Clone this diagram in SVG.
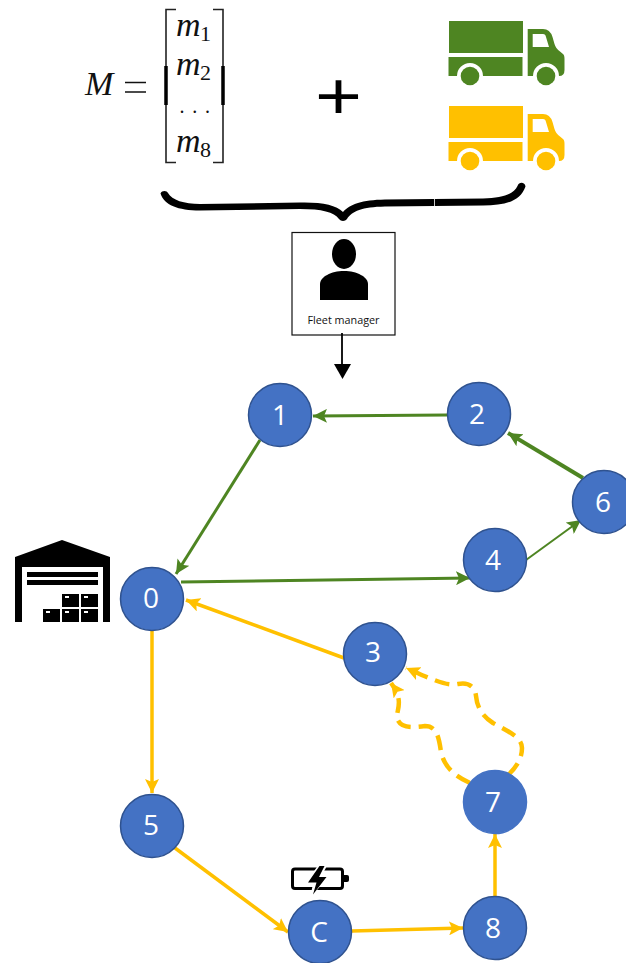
<svg xmlns="http://www.w3.org/2000/svg" width="626" height="963" viewBox="0 0 626 963">
<style>
.math{font-family:"Liberation Serif",serif;font-style:italic;font-size:34px;fill:#111}
.sub{font-family:"Liberation Serif",serif;font-size:22px;fill:#111}
.node circle{fill:#4472C4;stroke:#2F528F;stroke-width:1.500}
.node text{font-family:"Open Sans",sans-serif;font-size:28px;fill:#fff;text-anchor:middle}
.g{stroke:#4E8522;fill:none;stroke-width:3;marker-end:url(#ag)}
.y{stroke:#FFC000;fill:none;stroke-width:3.500;marker-end:url(#ay)}
.d{stroke:#FFC000;fill:none;stroke-width:4.500;stroke-dasharray:15 8;marker-end:url(#ay)}
</style>
<defs>
<marker id="ag" markerUnits="userSpaceOnUse" markerWidth="15" markerHeight="14" refX="14" refY="7" orient="auto"><path d="M0 0L14 7L0 14L3 7Z" fill="#4E8522"/></marker>
<marker id="ay" markerUnits="userSpaceOnUse" markerWidth="15" markerHeight="14" refX="14" refY="7" orient="auto"><path d="M0 0L14 7L0 14L3 7Z" fill="#FFC000"/></marker>
<g id="truck">
<path d="M449 21H523V53H449ZM448.500 57H522.500V76H483A13 13 0 0 0 457 76H448.500Z"/>
<path fill-rule="evenodd" d="M527.700 29H543Q550 29 552.500 37L554.500 44Q556 49 560 51.500L563 54Q564.500 55 564.500 59V70Q564.500 76 559 76A13 13 0 0 0 533 76H527.700ZM532.700 34V47H549L546 37Q545.500 34 543 34Z"/>
<circle cx="470" cy="76" r="9.300"/><circle cx="546" cy="76" r="9.300"/>
</g>
</defs>
<rect width="626" height="963" fill="#fff"/>

<g id="formula">
<text class="math" x="85" y="95">M</text>
<path d="M125 82.500H146M125 92H146" stroke="#111" stroke-width="1.300"/>
<path d="M176 9.500H166V162.500H176M213 9.500H223V162.500H213" fill="none" stroke="#222" stroke-width="1.600"/>
<path d="M166 66V105M223 66V105" stroke="#000" stroke-width="3.500"/>
<text class="math" x="176" y="36">m</text><text class="sub" x="200" y="41">1</text>
<text class="math" x="176" y="75">m</text><text class="sub" x="200" y="80">2</text>
<text class="math" x="176" y="152">m</text><text class="sub" x="200" y="157">8</text>
<text x="179.500" y="113" font-family="Liberation Serif,serif" font-size="20" fill="#111" letter-spacing="7.700">...</text>
<text x="315" y="119" font-family="Liberation Sans,sans-serif" font-size="66" fill="#000" textLength="47" lengthAdjust="spacingAndGlyphs">+</text>
</g>

<g id="truck-green" fill="#4E8522"><use href="#truck"/></g>
<g id="truck-yellow" fill="#FFC000" transform="translate(0 85)"><use href="#truck"/></g>

<g id="brace">
<path d="M160.500 193.500C162 190 167 190.500 168 193C172 200 184 204 200 204L300 202.500C322 202 336 205 343 212C350 204 362 200 385 199.500L483 198.500C503 198 514 194 517.500 186C519 181.500 525 182 525.500 186.500C520 202 505 205 483 205.500L385 206.500C362 207 352 211 347 219C345 221.500 341 221.500 339 219C334 212 322 209 300 209L200 210.500C178 210.500 164 205 160.500 193.500Z"/>
<path d="M434.500 197V207" stroke="#fff" stroke-width="0.800"/>
</g>

<g id="fleet-manager">
<rect x="292" y="232.500" width="103" height="102.500" fill="#fff" stroke="#111" stroke-width="1.200"/>
<ellipse cx="344" cy="254" rx="12" ry="15"/>
<path d="M320 300V284C320 277 331 271 344 271C357 271 368 277 368 284V300Z"/>
<text x="343.500" y="324" font-family="Open Sans,sans-serif" font-size="11" fill="#111" text-anchor="middle" textLength="72" lengthAdjust="spacingAndGlyphs">Fleet manager</text>
</g>

<g id="warehouse">
<path d="M15 622V557L62 540L110 557V622H103V567H22V622Z"/>
<path d="M27 572H98V577H27ZM27 580H98V585H27ZM62 594H79V607H62ZM81 594H98V607H81ZM43 609H60V622H43ZM62 609H79V622H62ZM81 609H98V622H81Z"/>
<path d="M65 596H69V598H65ZM84 596H88V598H84ZM46 611H50V613H46ZM65 611H69V613H65ZM84 611H88V613H84Z" fill="#fff"/>
</g>

<g id="battery">
<rect x="292.500" y="869" width="50" height="19.500" rx="2.500" fill="#fff" stroke="#000" stroke-width="3"/>
<path d="M344 875H347Q349 875 349 877V880Q349 882 347 882H344Z"/>
<path d="M319 864L305 884H313L310 898L330 875H322L328 864Z" fill="#fff"/>
<path d="M319.500 866L308 882.500H316.500L313 894.500L326.500 877H319L324.500 866Z"/>
</g>

<g id="connectors">
<path class="g" d="M447 415L313 416"/>
<path class="g" d="M260 440L176 574"/>
<path class="g" d="M181 582L470 578"/>
<path class="g" style="stroke-width:2" d="M526 560L581 520"/>
<path class="g" style="stroke-width:4" d="M583 478L508 433"/>
<path class="y" d="M344 658L186 600"/>
<path class="y" d="M152 631V793"/>
<path class="y" d="M175 848L288 932"/>
<path class="y" d="M352 931L463 928"/>
<path class="y" d="M495 897V834"/>
<path class="d" d="M508 775C518 766 522 757 522 748C522 738 510 732 493 723C482 716 477 707 476 696C475 686 468 682 458 684C447 686 438 682 406 668"/>
<path class="d" d="M470 783C452 775 444 765 441 752C439 738 437 726 425 726C410 728 400 728 397 718C396 710 405 702 391 683"/>
<path d="M342 333V365" stroke="#000" stroke-width="1.800" fill="none"/>
<path d="M334 364H351L342.500 379Z"/>
</g>

<g id="node-1" class="node"><circle cx="280" cy="415" r="31.500"/><text x="280" y="425">1</text></g>
<g id="node-2" class="node"><circle cx="479" cy="414" r="31.500"/><text x="477" y="424">2</text></g>
<g id="node-6" class="node"><circle cx="604" cy="502" r="31.500"/><text x="603" y="512">6</text></g>
<g id="node-4" class="node"><circle cx="495" cy="560" r="31.500"/><text x="493" y="570">4</text></g>
<g id="node-0" class="node"><circle cx="152" cy="599" r="31.500"/><text x="151" y="608">0</text></g>
<g id="node-3" class="node"><circle cx="375" cy="654" r="31.500"/><text x="373" y="662">3</text></g>
<g id="node-7" class="node"><circle cx="495" cy="802" r="31.500" style="stroke:#4472C4"/><text x="493" y="812">7</text></g>
<g id="node-5" class="node"><circle cx="152" cy="826" r="31.500"/><text x="151" y="835">5</text></g>
<g id="node-C" class="node"><circle cx="320" cy="932" r="31.500"/><text x="319" y="942">C</text></g>
<g id="node-8" class="node"><circle cx="495" cy="928" r="31.500"/><text x="493" y="938">8</text></g>
</svg>
